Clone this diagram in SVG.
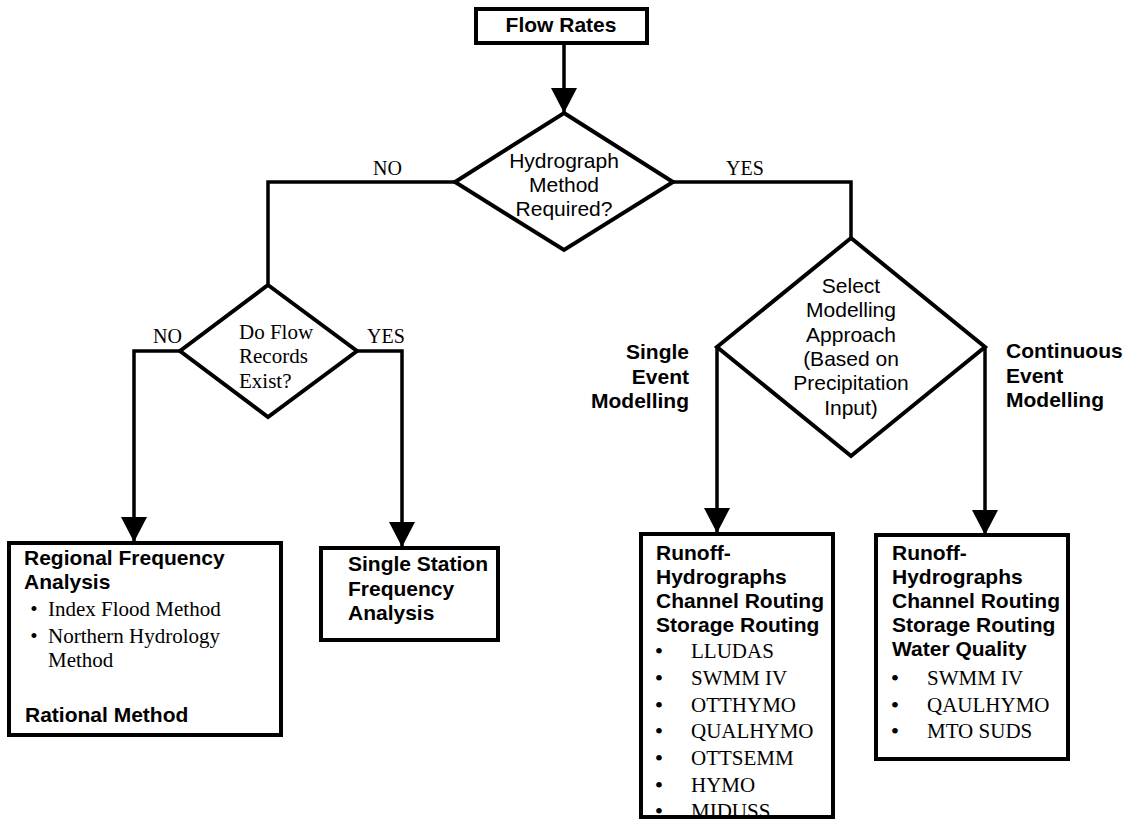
<svg xmlns="http://www.w3.org/2000/svg" width="1126" height="820" viewBox="0 0 1126 820">
  <style>
    .box { fill: #fff; stroke: #000; stroke-width: 4; }
    .dia { fill: #fff; stroke: #000; stroke-width: 4; stroke-linejoin: miter; }
    .wire { fill: none; stroke: #000; stroke-width: 3.5; }
    .hb { font-family: "Liberation Sans", Arial, sans-serif; font-weight: bold; font-size: 21px; fill: #000; }
    .hr { font-family: "Liberation Sans", Arial, sans-serif; font-size: 21px; fill: #000; }
    .tr { font-family: "Liberation Serif", "Times New Roman", serif; font-size: 21px; fill: #000; }
    .bul { font-family: "Liberation Serif", "Times New Roman", serif; font-size: 24px; fill: #000; }
    .lbl { font-family: "Liberation Serif", "Times New Roman", serif; font-size: 20px; fill: #000; }
  </style>
  <defs>
    <marker id="head" markerUnits="userSpaceOnUse" markerWidth="25" markerHeight="26" viewBox="0 0 25 26" refX="25" refY="13" orient="auto">
      <path d="M0,0 L25,13 L0,26 z" fill="#000"/>
    </marker>
  </defs>
  <rect width="1126" height="820" fill="#fff"/>

  <!-- connectors -->
  <g id="connectors">
    <path class="wire" d="M564,43 V113" marker-end="url(#head)"/>
    <path class="wire" d="M455,182 H268 V285"/>
    <path class="wire" d="M673,182 H851 V238"/>
    <path class="wire" d="M180,351 H134 V542" marker-end="url(#head)"/>
    <path class="wire" d="M357,351 H402 V547" marker-end="url(#head)"/>
    <path class="wire" d="M717,347 V533" marker-end="url(#head)"/>
    <path class="wire" d="M985,347 V535" marker-end="url(#head)"/>
    <text class="lbl" x="373" y="175">NO</text>
    <text class="lbl" x="726" y="175">YES</text>
    <text class="lbl" x="153" y="343">NO</text>
    <text class="lbl" x="367" y="343">YES</text>
    <text class="hb" x="689" y="359" text-anchor="end">Single</text>
    <text class="hb" x="689" y="384" text-anchor="end">Event</text>
    <text class="hb" x="689" y="408" text-anchor="end">Modelling</text>
    <text class="hb" x="1006" y="358">Continuous</text>
    <text class="hb" x="1006" y="383">Event</text>
    <text class="hb" x="1006" y="407">Modelling</text>
  </g>

  <!-- start box -->
  <g id="flow-rates">
    <rect class="box" x="476" y="9" width="171" height="34"/>
    <text class="hb" x="561" y="32" text-anchor="middle">Flow Rates</text>
  </g>

  <!-- decision: hydrograph method -->
  <g id="hydrograph-decision">
    <polygon class="dia" points="564,113 673,182 564,250 455,182"/>
    <text class="hr" x="564" y="168" text-anchor="middle">Hydrograph</text>
    <text class="hr" x="564" y="192" text-anchor="middle">Method</text>
    <text class="hr" x="564" y="216" text-anchor="middle">Required?</text>
  </g>

  <!-- decision: flow records -->
  <g id="flow-records-decision">
    <polygon class="dia" points="268,285 357,351 268,417 180,351"/>
    <text class="tr" x="239" y="339">Do Flow</text>
    <text class="tr" x="239" y="363">Records</text>
    <text class="tr" x="239" y="388">Exist?</text>
  </g>

  <!-- decision: modelling approach -->
  <g id="modelling-decision">
    <polygon class="dia" points="851,238 985,347 851,456 717,347"/>
    <text class="hr" x="851" y="293" text-anchor="middle">Select</text>
    <text class="hr" x="851" y="317" text-anchor="middle">Modelling</text>
    <text class="hr" x="851" y="342" text-anchor="middle">Approach</text>
    <text class="hr" x="851" y="366" text-anchor="middle">(Based on</text>
    <text class="hr" x="851" y="390" text-anchor="middle">Precipitation</text>
    <text class="hr" x="851" y="415" text-anchor="middle">Input)</text>
  </g>

  <!-- regional frequency analysis -->
  <g id="regional-frequency">
    <rect class="box" x="9" y="543" width="272" height="192"/>
    <text class="hb" x="24" y="565">Regional Frequency</text>
    <text class="hb" x="24" y="589">Analysis</text>
    <text class="tr" x="34" y="616" text-anchor="middle">•</text>
    <text class="tr" x="48" y="616">Index Flood Method</text>
    <text class="tr" x="34" y="643" text-anchor="middle">•</text>
    <text class="tr" x="48" y="643">Northern Hydrology</text>
    <text class="tr" x="48" y="667">Method</text>
    <text class="hb" x="25" y="722">Rational Method</text>
  </g>

  <!-- single station frequency analysis -->
  <g id="single-station">
    <rect class="box" x="321" y="548" width="177" height="92"/>
    <text class="hb" x="348" y="571">Single Station</text>
    <text class="hb" x="348" y="596">Frequency</text>
    <text class="hb" x="348" y="620">Analysis</text>
  </g>

  <!-- single event models -->
  <g id="single-event-models">
    <text class="hb" x="656" y="560">Runoff-</text>
    <text class="hb" x="656" y="584">Hydrographs</text>
    <text class="hb" x="656" y="608">Channel Routing</text>
    <text class="hb" x="656" y="632">Storage Routing</text>
    <text class="bul" x="659" y="659" text-anchor="middle">•</text><text class="tr" x="691" y="658">LLUDAS</text>
    <text class="bul" x="659" y="686" text-anchor="middle">•</text><text class="tr" x="691" y="685">SWMM IV</text>
    <text class="bul" x="659" y="713" text-anchor="middle">•</text><text class="tr" x="691" y="712">OTTHYMO</text>
    <text class="bul" x="659" y="739" text-anchor="middle">•</text><text class="tr" x="691" y="738">QUALHYMO</text>
    <text class="bul" x="659" y="766" text-anchor="middle">•</text><text class="tr" x="691" y="765">OTTSEMM</text>
    <text class="bul" x="659" y="793" text-anchor="middle">•</text><text class="tr" x="691" y="792">HYMO</text>
    <text class="bul" x="659" y="819" text-anchor="middle">•</text><text class="tr" x="691" y="818">MIDUSS</text>
    <rect x="641" y="534" width="192" height="283" fill="none" stroke="#000" stroke-width="4"/>
    <rect x="630" y="819" width="215" height="5" fill="#fff"/>
  </g>

  <!-- continuous event models -->
  <g id="continuous-event-models">
    <rect class="box" x="876" y="535" width="192" height="224"/>
    <text class="hb" x="892" y="560">Runoff-</text>
    <text class="hb" x="892" y="584">Hydrographs</text>
    <text class="hb" x="892" y="608">Channel Routing</text>
    <text class="hb" x="892" y="632">Storage Routing</text>
    <text class="hb" x="892" y="656">Water Quality</text>
    <text class="bul" x="895" y="686" text-anchor="middle">•</text><text class="tr" x="927" y="685">SWMM IV</text>
    <text class="bul" x="895" y="713" text-anchor="middle">•</text><text class="tr" x="927" y="712">QAULHYMO</text>
    <text class="bul" x="895" y="739" text-anchor="middle">•</text><text class="tr" x="927" y="738">MTO SUDS</text>
  </g>
</svg>
